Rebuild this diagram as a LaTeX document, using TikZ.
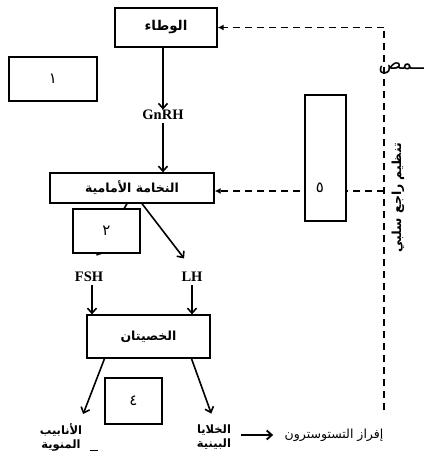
\documentclass[tikz,border=0pt]{standalone}
\usepackage{fontspec}
\setmainfont{Liberation Serif}
\newfontfamily\arabicfont[Script=Arabic]{DejaVu Sans}
\TeXXeTstate=1
\usetikzlibrary{arrows.meta, positioning, calc}
\newcommand{\artxt}[1]{{\arabicfont\beginR #1\endR}}

\begin{document}
\begin{tikzpicture}[x=1pt, y=-1pt,
  box/.style={draw, line width=1.3pt, fill=white, inner sep=0pt,
    font=\fontsize{12.5}{14}\selectfont},
  numbox/.style={box, font=\fontsize{15}{16}\selectfont},
  hormone/.style={font=\bfseries\fontsize{14.5}{16}\selectfont},
  lbl/.style={font=\bfseries\fontsize{11.5}{14}\selectfont, align=center},
  arr/.style={-{Straight Barb[length=5pt,width=9pt]}, line width=1.6pt},
  fb/.style={dash pattern=on 7pt off 5pt, line width=1.4pt},
  fbarr/.style={fb, -{Latex[length=6pt,width=6pt]}}]
\useasboundingbox (0,0) rectangle (428,456);

\node[box, minimum width=102pt, minimum height=39pt, font=\fontsize{13.5}{15}\selectfont] (hyp) at (166,27.5) {\bfseries\artxt{الوطاء}};
\node[numbox, minimum width=88pt, minimum height=44pt] (n1) at (53,79) {\artxt{١}};
\node[hormone] (gnrh) at (163,115) {GnRH};
\node[box, minimum width=164pt, minimum height=30pt] (pit) at (132,188) {\bfseries\artxt{النخامة الأمامية}};
\node[hormone] (fsh) at (89,277) {FSH};
\node[hormone] (lh) at (192,277) {LH};
\node[box, minimum width=123pt, minimum height=43pt] (tes) at (148.5,336.5) {\bfseries\artxt{الخصيتان}};
\node[lbl] (tub) at (61,437) {\artxt{الأنابيب}\\\artxt{المنوية}};
\node[lbl] (ley) at (214,437) {\artxt{الخلايا}\\\artxt{البينية}};
\node[font=\fontsize{12.5}{14}\selectfont] (tst) at (334,435) {\artxt{إفراز التستوسترون}};
\node[anchor=west, font=\fontsize{19}{19}\selectfont] (cut) at (375,68) {\artxt{ــمص}};
\node[rotate=90, font=\bfseries\fontsize{12.5}{14}\selectfont] (neg) at (398,198) {\artxt{تنظيم راجع سلبي}};

% negative feedback
\coordinate (fbtop) at (384,27.5);
\coordinate (fbmid) at (384,191);
\coordinate (fbbot) at (384,410);
\draw[fb] (fbbot) -- (fbtop);
\draw[fbarr] (fbtop) -- (hyp.east);
\draw[fbarr] (fbmid) -- (pit.east |- fbmid);

\draw[arr] (hyp.south -| gnrh) -- ([yshift=-3pt]gnrh.north);
\draw[arr] (gnrh.south) -- (gnrh.south |- pit.north);
\draw[arr, shorten >=15pt] ([xshift=-5pt]pit.south) -- (fsh.north);
\draw[arr, shorten >=13pt] ([xshift=10pt]pit.south) -- (lh.north);
\draw[arr] ([xshift=3pt]fsh.south) -- ([xshift=3pt]fsh.south |- tes.north);
\draw[arr] (lh.south) -- (lh.south |- tes.north);
\draw[arr, shorten >=6pt] ([xshift=-44pt]tes.south) -- ([xshift=20pt]tub.north);
\draw[arr, shorten >=8pt] ([xshift=43pt]tes.south) -- (ley.north);
\draw[arr, line width=1.9pt, shorten <=6pt, shorten >=8pt] (ley.east |- tst) -- (tst.west);
\coordinate (stub) at ([xshift=4pt, yshift=4pt]tub.south east);
\draw[line width=1.5pt] (stub) -- ++(8,0);

% numbered boxes
\node[numbox, minimum width=67pt, minimum height=44pt] (n2) at (106.5,231) {\artxt{٢}};
\node[numbox, minimum width=57pt, minimum height=46pt] (n4) at (133.5,401) {\artxt{٤}};
\node[box, minimum width=41pt, minimum height=126pt] (n5) at (325.5,158) {};
\node[font=\fontsize{15}{16}\selectfont] (five) at (320,188) {\artxt{٥}};
\end{tikzpicture}
\end{document}
